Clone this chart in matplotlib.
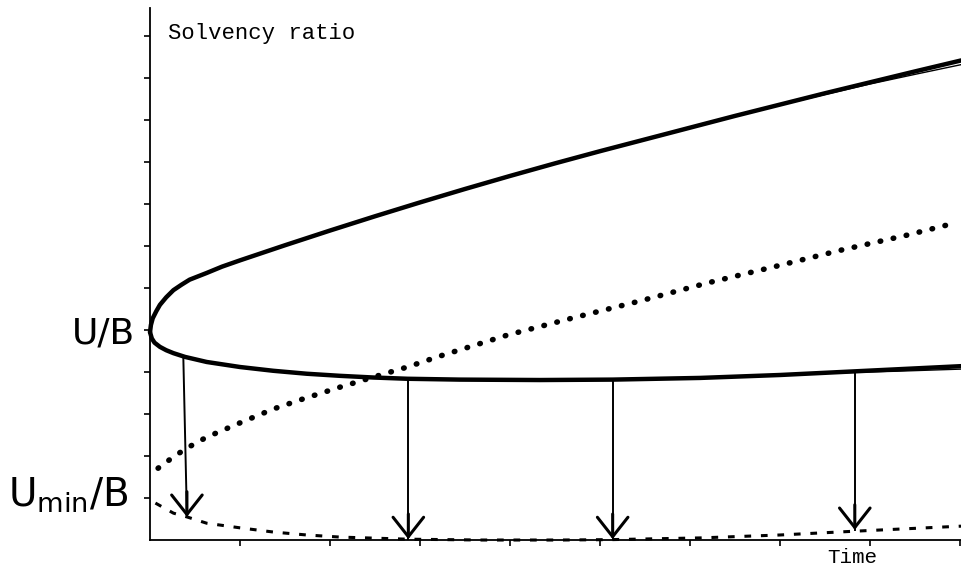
#solvency ratio sketch
import matplotlib
matplotlib.use('Agg')
import matplotlib.pyplot as plt

#upper solid curve (time, ratio)
upper_t = [0, 0.01, 0.03, 0.07, 0.11, 0.18, 0.26, 0.35, 0.44, 0.63, 0.8, 1.0, 1.5, 2.0,
           2.5, 3.0, 3.5, 4.0, 4.5, 5.0, 5.5, 6.0, 6.5, 7.0, 7.5, 8.0, 8.5, 9.01]
upper_y = [4.95, 5.12, 5.28, 5.45, 5.6, 5.78, 5.95, 6.08, 6.2, 6.36, 6.51, 6.66, 7.02, 7.37,
           7.71, 8.04, 8.36, 8.67, 8.97, 9.26, 9.54, 9.82, 10.1, 10.37, 10.64, 10.9,
           11.16, 11.42]

#thin second trace splitting off the upper curve at the right end
upper2_t = [7.2, 8.0, 8.5, 9.01]
upper2_y = [10.46, 10.86, 11.09, 11.32]

#lower solid curve
lower_t = [0, 0.02, 0.05, 0.11, 0.18, 0.26, 0.39, 0.63, 1.0, 1.37, 1.74, 2.11, 2.48, 2.86,
           3.44, 4.33, 5.14, 6.11, 7.0, 7.86, 9.01]
lower_y = [4.95, 4.8, 4.7, 4.6, 4.52, 4.45, 4.36, 4.24, 4.12, 4.03, 3.96, 3.91, 3.87, 3.84,
           3.82, 3.81, 3.82, 3.86, 3.93, 4.02, 4.14]

#thin second trace under the lower curve at the right end
lower2_t = [7.6, 8.3, 9.01]
lower2_y = [3.98, 4.02, 4.07]

#upper dotted curve
dot_t = [0.09, 0.26, 0.41, 0.63, 1.0, 1.37, 1.7, 2.11, 2.56, 2.86, 3.22, 3.97, 4.7,
         5.44, 6.19, 6.92, 7.67, 8.41, 8.89]
dot_y = [1.71, 1.98, 2.19, 2.45, 2.79, 3.12, 3.36, 3.64, 3.93, 4.12, 4.38, 4.88, 5.29,
         5.69, 6.12, 6.5, 6.9, 7.26, 7.52]

#lower dashed curve
dash_t = [0.06, 0.26, 0.41, 0.63, 1.0, 1.37, 1.74, 2.11, 2.86, 3.67, 4.56, 5.14, 6.11,
          7.0, 7.83, 9.01]
dash_y = [0.88, 0.64, 0.55, 0.4, 0.29, 0.19, 0.12, 0.07, 0.02, 0.0, 0.0, 0.01, 0.05,
          0.12, 0.21, 0.33]

#arrows from the lower solid curve down to the dashed one
arrow_t0 = [0.37, 2.87, 5.14, 7.83]
arrow_t1 = [0.41, 2.87, 5.14, 7.83]
arrow_y0 = [4.36, 3.83, 3.81, 4.02]
arrow_y1 = [0.55, 0.02, 0.02, 0.24]

x_ticks = [1, 2, 3, 4, 5, 6, 7, 8, 9]
y_ticks = [1, 2, 3, 4, 5, 6, 7, 8, 9, 10, 11, 12]

fig = plt.figure(figsize=(9.61, 5.70), dpi=100)
ax = fig.add_axes([0.1561, 0.0526, 0.8439, 0.9334])

ax.plot(upper_t, upper_y, color='black', lw=3.2, solid_capstyle='round',
        solid_joinstyle='round', clip_on=False)
ax.plot(upper2_t, upper2_y, color='black', lw=1.0, clip_on=False)
ax.plot(lower_t, lower_y, color='black', lw=3.2, solid_capstyle='round',
        solid_joinstyle='round', clip_on=False)
ax.plot(lower2_t, lower2_y, color='black', lw=1.0, clip_on=False)
ax.plot(dot_t, dot_y, color='black', lw=4.0, linestyle=(0, (0.1, 2.3)),
        dash_capstyle='round', clip_on=False)
ax.plot(dash_t, dash_y, color='black', lw=2.2, linestyle=(0, (2.2, 3.2)), clip_on=False)

#shaft thin, head a bit heavier
for i in range(len(arrow_t0)):
    ax.plot([arrow_t0[i], arrow_t1[i]], [arrow_y0[i], arrow_y1[i]], color='black', lw=1.4)
    ax.annotate('', xy=(arrow_t1[i], arrow_y1[i]), xytext=(arrow_t1[i], arrow_y1[i] + 0.6),
                arrowprops=dict(arrowstyle='->,head_length=0.7,head_width=0.55',
                                mutation_scale=20, color='black', lw=2.2,
                                shrinkA=0, shrinkB=0))

ax.set_xlim(0, 9.01)
ax.set_ylim(0, 12.67)

#only left and bottom axis lines
ax.spines['top'].set_visible(False)
ax.spines['right'].set_visible(False)
ax.spines['left'].set_linewidth(1.3)
ax.spines['bottom'].set_linewidth(1.3)
ax.set_xticks(x_ticks)
ax.set_yticks(y_ticks)
ax.set_xticklabels([])
ax.set_yticklabels([])
ax.tick_params(direction='out', length=4, width=1.2)

ax.text(0.2, 12.07, 'Solvency ratio', family='Liberation Mono', fontsize=16,
        ha='left', va='center')
ax.text(7.8, -0.2, 'Time', family='Liberation Mono', fontsize=15,
        ha='center', va='top', clip_on=False)
ax.text(-0.17, 4.69, 'U/B', fontsize=26, ha='right', va='baseline')
ax.text(-0.24, 0.79, r'$\mathregular{U_{min}/B}$', fontsize=28, ha='right', va='baseline')

fig.savefig('out.png', dpi=100)
